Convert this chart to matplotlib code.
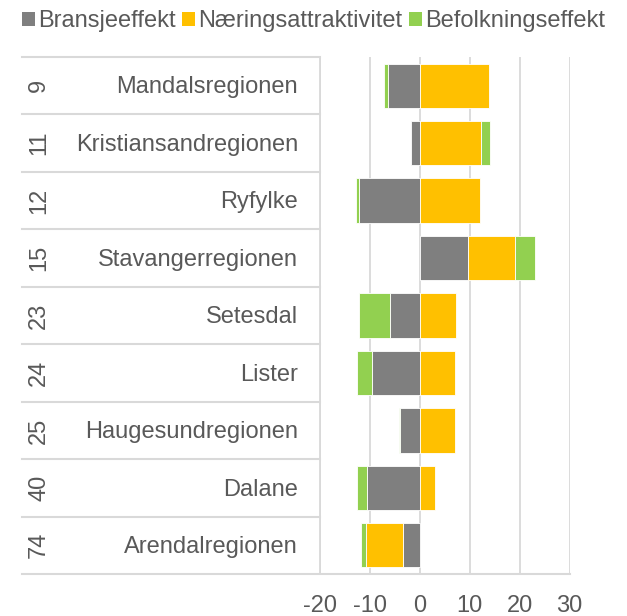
import matplotlib
matplotlib.use("Agg")
import matplotlib.pyplot as plt
import matplotlib.transforms as mtransforms
import numpy as np
from matplotlib.lines import Line2D
from matplotlib.patches import Patch

plt.rcParams["font.family"] = ["Liberation Sans", "DejaVu Sans"]
plt.rcParams["axes.unicode_minus"] = False

# data
ranks = ["9", "11", "12", "15", "23", "24", "25", "40", "74"]
regions = ["Mandalsregionen", "Kristiansandregionen", "Ryfylke", "Stavangerregionen",
           "Setesdal", "Lister", "Haugesundregionen", "Dalane", "Arendalregionen"]
bransje = [-6.4, -1.8, -12.1, 9.6, -6.0, -9.6, -3.9, -10.5, -3.3]
naering = [13.8, 12.3, 12.0, 9.5, 7.2, 7.1, 7.1, 3.0, -7.5]
befolkning = [-0.8, 1.7, -0.7, 4.0, -6.2, -3.0, -0.2, -2.0, -1.0]

series_names = ["Bransjeeffekt", "Næringsattraktivitet", "Befolkningseffekt"]
colors = ["#7F7F7F", "#FFC000", "#92D050"]
txt = "#595959"
grid = "#D9D9D9"
fs = 17

W, H = 627, 616
fig = plt.figure(figsize=(W / 100, H / 100), dpi=100)
ax = fig.add_axes([320 / W, 1 - 574 / H, 249.5 / W, 517 / H])

y = np.arange(len(regions))
pos = np.zeros(len(regions))
neg = np.zeros(len(regions))
for vals, c in zip([bransje, naering, befolkning], colors):
    v = np.array(vals)
    left = np.where(v >= 0, pos, neg)
    ax.barh(y, v, left=left, height=0.77, color=c, edgecolor="white",
            linewidth=0.6, zorder=3)
    pos = pos + np.where(v >= 0, v, 0)
    neg = neg + np.where(v < 0, v, 0)

ax.set_xlim(-20, 30)
ax.set_ylim(len(regions) - 0.5, -0.5)
ax.set_xticks(np.arange(-20, 31, 10))
ax.set_yticks([])
ax.grid(axis="x", color=grid, linewidth=1.3, zorder=0)
ax.tick_params(axis="x", length=0, pad=15, labelsize=fs, labelcolor=txt)
for s in ["top", "right", "bottom"]:
    ax.spines[s].set_visible(False)
ax.spines["left"].set_color(grid)
ax.spines["left"].set_linewidth(1.3)

# category labels and separators left of the plot
tr = mtransforms.blended_transform_factory(fig.transFigure, ax.transData)
x0, x1 = 22 / W, 569.5 / W
for b in np.arange(-0.5, len(regions), 1.0):
    xe = x1 if b == len(regions) - 0.5 else 320 / W
    fig.add_artist(Line2D([x0, xe], [b, b], transform=tr, color=grid,
                          linewidth=1.5))
for i in range(len(regions)):
    ax.text(298 / W, i + 0.03, regions[i], transform=tr, ha="right", va="center",
            fontsize=fs, color=txt)
    ax.text(39 / W, i, ranks[i], transform=tr, ha="center", va="center",
            rotation=90, fontsize=fs, color=txt)

handles = [Patch(facecolor=c, edgecolor="none") for c in colors]
fig.legend(handles, series_names, loc="center", bbox_to_anchor=(0.5, 1 - 21 / H),
           ncol=3, frameon=False, fontsize=fs, labelcolor=txt,
           handlelength=0.55, handleheight=0.55, handletextpad=0.15,
           columnspacing=0.25, borderaxespad=0)

fig.savefig("out.png", dpi=100)
